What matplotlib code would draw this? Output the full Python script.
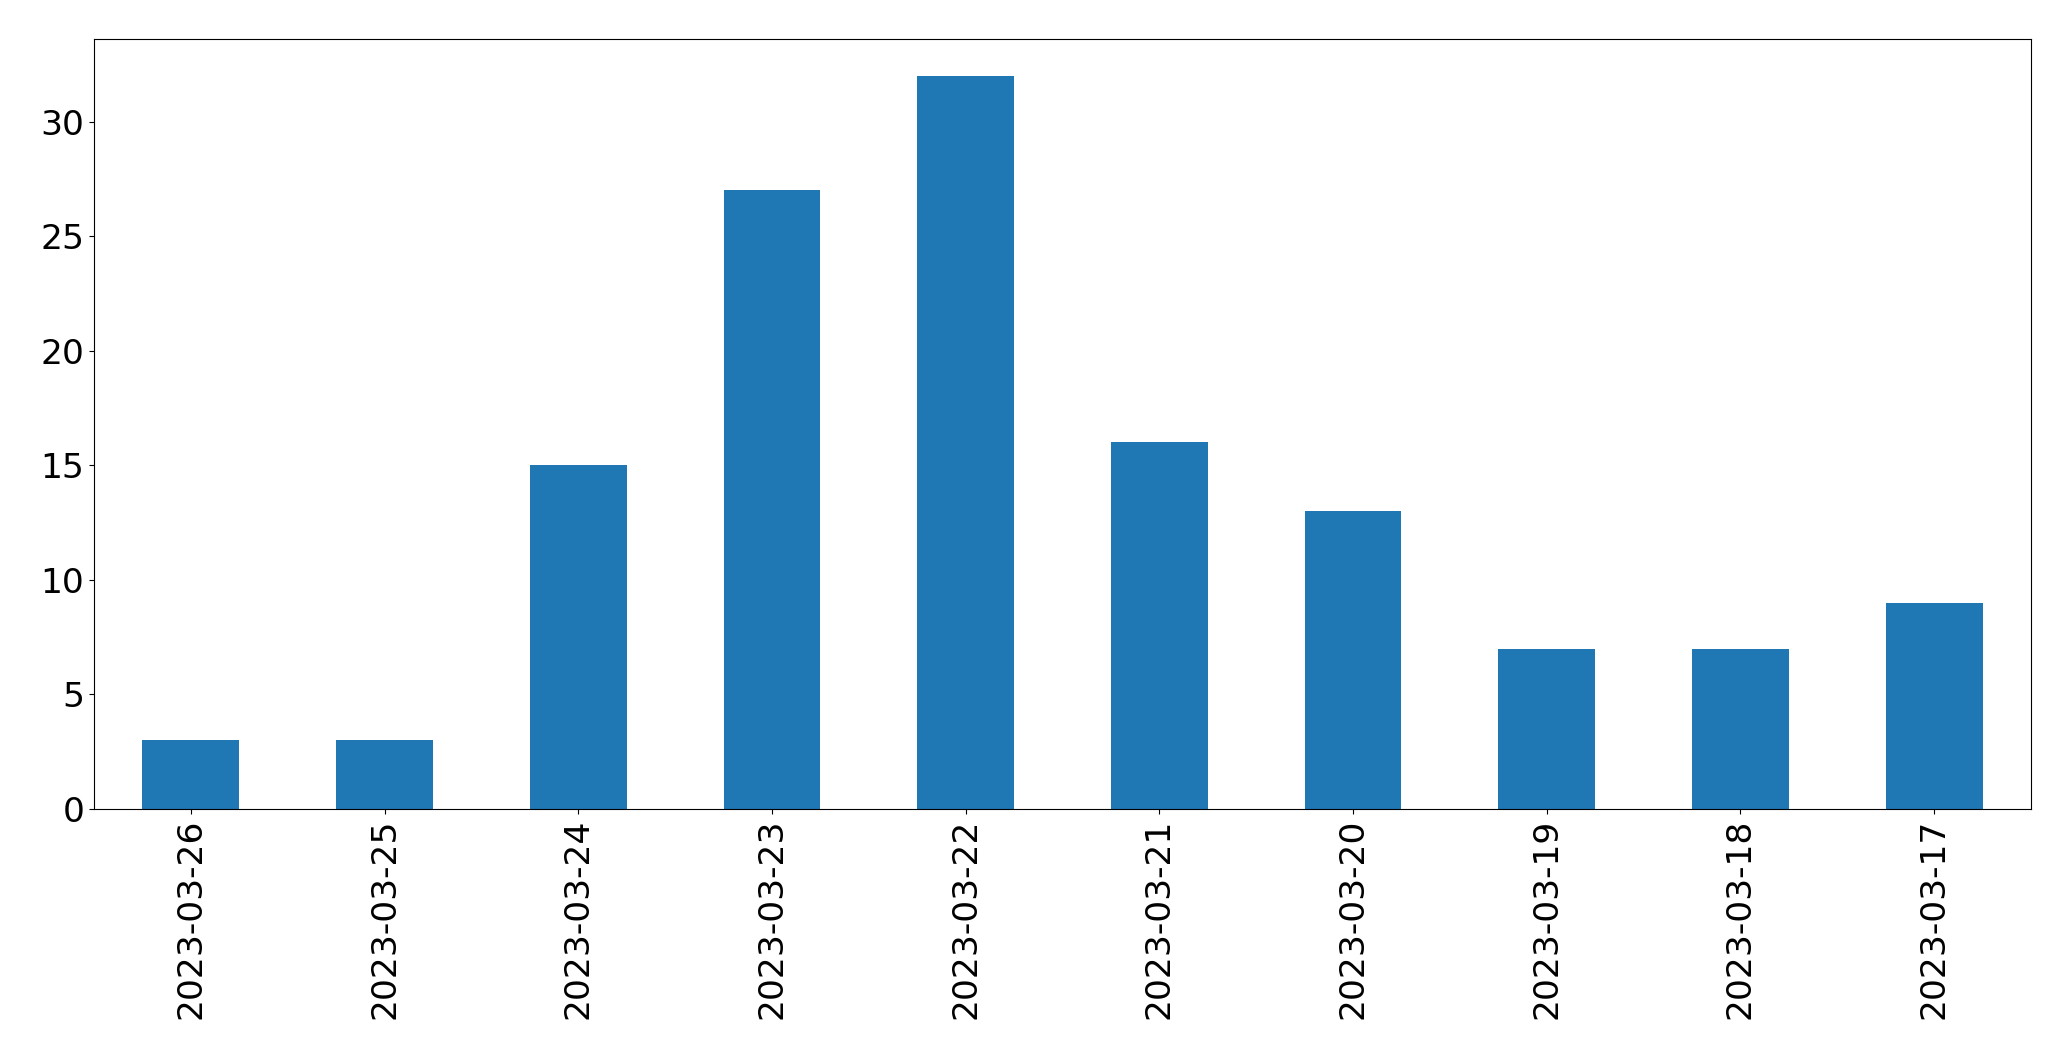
import matplotlib
matplotlib.use("Agg")
import matplotlib.pyplot as plt
import numpy as np

dates = ['2023-03-26', '2023-03-25', '2023-03-24', '2023-03-23', '2023-03-22',
         '2023-03-21', '2023-03-20', '2023-03-19', '2023-03-18', '2023-03-17']
counts = [3, 3, 15, 27, 32, 16, 13, 7, 7, 9]

fig = plt.figure(figsize=(20.71, 10.61), dpi=100)
ax = fig.add_axes([94/2071, 252/1061, (2031-94)/2071, (1022-252)/1061])

x = np.arange(len(dates))
ax.bar(x, counts, width=0.5, color='#1f77b4')
ax.set_xlim(-0.5, len(dates) - 0.5)
ax.set_ylim(0, max(counts) * 1.05)
ax.set_xticks(x)
ax.set_xticklabels(dates, rotation=90)
ax.tick_params(labelsize=24.8)

fig.savefig("out.png", dpi=100)
